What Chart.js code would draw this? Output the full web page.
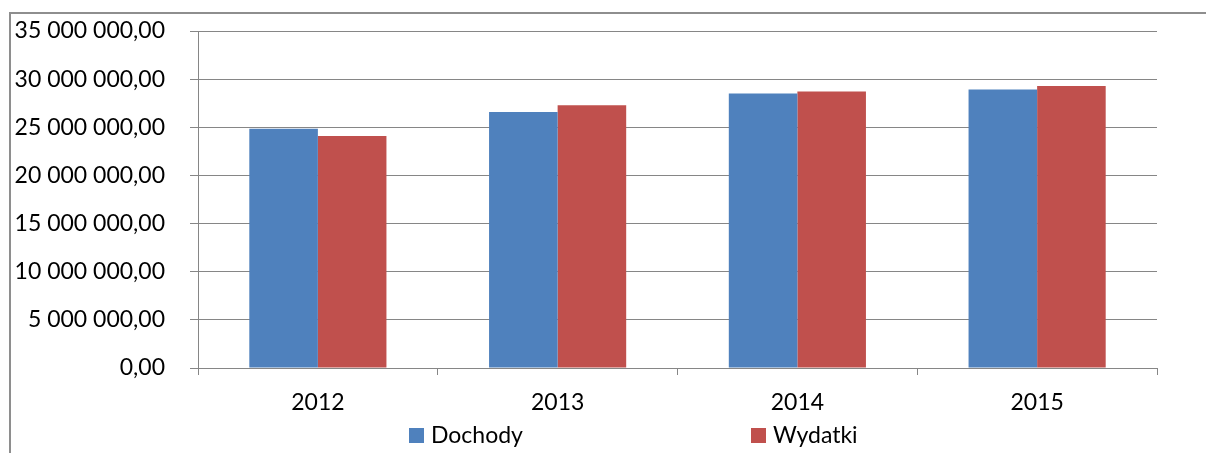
<!DOCTYPE html>
<html>
<head>
<meta charset="utf-8">
<script src="https://cdn.jsdelivr.net/npm/chart.js@4"></script>
<style>
  html, body { margin: 0; padding: 0; background: #fff; overflow: hidden; }
  #frame { position: absolute; left: 9px; top: 12px; width: 1300px; height: 600px;
           border-left: 2px solid #8e8e8e; border-top: 2px solid #8e8e8e; }
  canvas { position: absolute; left: 0; top: 0; }
</style>
</head>
<body>
<div id="frame"></div>
<canvas id="myChart" width="1206" height="453"></canvas>
<script>
var lata = ["2012", "2013", "2014", "2015"];
var dochody = [24860000, 26600000, 28500000, 28920000];
var wydatki = [24090000, 27290000, 28720000, 29300000];
var nazwy = ["Dochody", "Wydatki"];
var kolory = ["#4f81bd", "#c0504d"];

var szary = "#868686";
var czcionka = { family: "Lato", size: 23 };

// 35000000 -> "35 000 000,00"
function formatuj(v) {
  var s = Math.round(v).toString().replace(/\B(?=(\d{3})+(?!\d))/g, " ");
  return s + ",00";
}

// legenda w stylu Excela, rozstawiona szeroko
var legenda = {
  id: "legenda",
  afterDraw: function (chart) {
    var ctx = chart.ctx;
    ctx.save();
    ctx.font = "23px Lato";
    ctx.textBaseline = "middle";
    chart.data.datasets.forEach(function (ds, i) {
      var x = 409 + i * 342;
      ctx.fillStyle = ds.backgroundColor;
      ctx.fillRect(x, 428, 15, 15);
      ctx.fillStyle = "#000";
      ctx.fillText(ds.label, x + 22, 436);
    });
    ctx.restore();
  }
};

const ctx = document.getElementById("myChart");

new Chart(ctx, {
  type: "bar",
  data: {
    labels: lata,
    datasets: [
      { label: nazwy[0], data: dochody, backgroundColor: kolory[0],
        barPercentage: 1, categoryPercentage: 0.572 },
      { label: nazwy[1], data: wydatki, backgroundColor: kolory[1],
        barPercentage: 1, categoryPercentage: 0.572 }
    ]
  },
  options: {
    responsive: false,
    animation: false,
    layout: { padding: { top: 31, right: 49, bottom: 0, left: 0 } },
    plugins: {
      legend: { display: false },
      tooltip: { enabled: false }
    },
    scales: {
      x: {
        offset: true,
        afterFit: function (s) {
          s.height = 85;
          s.paddingLeft = 0;
          s.paddingRight = 0;
        },
        grid: { offset: true, drawOnChartArea: false, tickLength: 7, color: szary },
        border: { color: szary },
        ticks: { color: "#000", font: czcionka, padding: 14 }
      },
      y: {
        min: 0,
        max: 35000000,
        afterFit: function (s) {
          s.width = 198;
          s.paddingTop = 0;
          s.paddingBottom = 0;
        },
        grid: { tickLength: 8, color: szary },
        border: { color: szary },
        ticks: {
          stepSize: 5000000,
          color: "#000",
          font: czcionka,
          padding: 25,
          callback: function (v) { return formatuj(v); }
        }
      }
    }
  },
  plugins: [legenda]
});
</script>
</body>
</html>
